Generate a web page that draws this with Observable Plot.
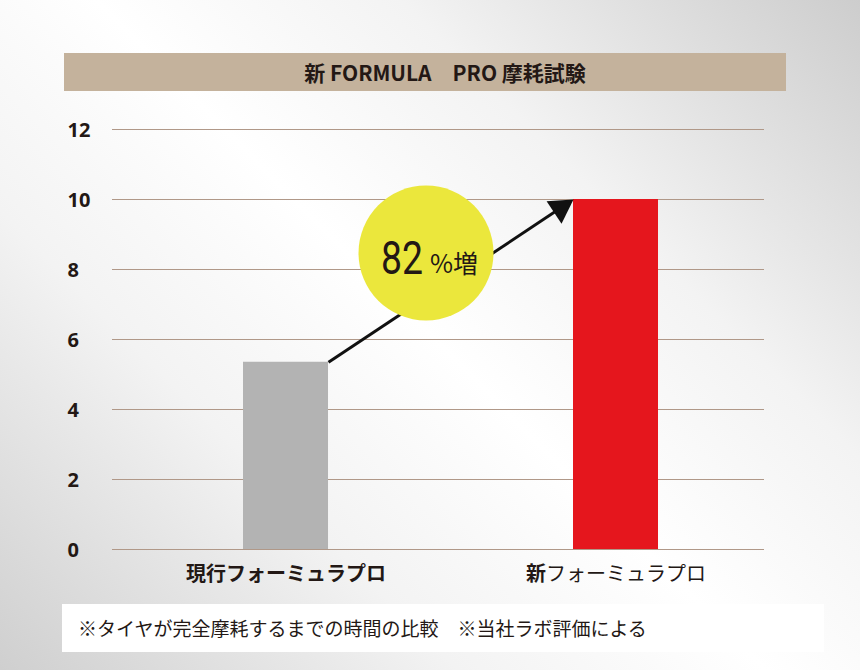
<!DOCTYPE html>
<html><head><meta charset="utf-8">
<script src="https://cdn.jsdelivr.net/npm/d3@7"></script>
<script src="https://cdn.jsdelivr.net/npm/@observablehq/plot@0.6"></script>
<style>
html,body{margin:0;padding:0;}
#wrap{position:relative;width:860px;height:670px;overflow:hidden;
  background:linear-gradient(225deg,#cdcdcd 0%,#f3f3f3 30%,#ffffff 50%,#f3f3f3 70%,#cfcfcf 100%);
  font-family:"Noto Sans CJK JP",sans-serif;color:#231815;}
#title{position:absolute;left:64px;top:53px;width:722px;height:38px;background:#c4b29c;text-align:center;line-height:38px;font-weight:700;font-size:21px;padding-left:40px;box-sizing:border-box;}
#chart{position:absolute;left:0;top:100px;}
#caption{position:absolute;left:62px;top:604px;width:762px;height:48px;background:#fff;line-height:48px;font-size:19px;padding-left:16px;box-sizing:border-box;}
</style></head>
<body><div id="wrap"><div id="title"></div><div id="chart"></div><div id="caption"></div></div>
<script>
const categories = ["現行フォーミュラプロ", "新フォーミュラプロ"];
const values = [5.35, 10];
const barColors = ["#b3b3b3", "#e5161d"];
const yTicks = [0, 2, 4, 6, 8, 10, 12];
const increaseNumber = "82";
const increaseUnit = "%増";
const titleText = "新 FORMULA　PRO 摩耗試験";
const captionText = "※タイヤが完全摩耗するまでの時間の比較　※当社ラボ評価による";

document.getElementById("title").textContent = titleText;
document.getElementById("caption").textContent = captionText;

const W = 860, H = 500, ml = 112, mr = 96, mt = 29, mb = 51;
const xDomain = [-0.5258, 1.45];
const kx = (W - ml - mr) / (xDomain[1] - xDomain[0]);
const ky = (H - mt - mb) / 12;
const hw = 42.5 / kx;

const data = categories.map((c, i) => ({c, i, v: values[i], color: barColors[i]}));

// arrow from top-right of first bar to top-left of second bar
const a0 = {x: data[0].i + hw, y: data[0].v};
const a1 = {x: data[1].i - hw, y: data[1].v};
const pdx = (a1.x - a0.x) * kx, pdy = -(a1.y - a0.y) * ky;
const plen = Math.hypot(pdx, pdy);
const ux = pdx / plen, uy = pdy / plen;
const triR = 10;
const triY = Math.sqrt(Math.PI * triR * triR / (Math.sqrt(3) * 3));
const back = 2 * triY;
const triCenter = {x: a1.x - back * ux / kx, y: a1.y + back * uy / ky};
const angle = Math.atan2(pdy, pdx) * 180 / Math.PI + 90;

// badge position
const badge = {x: (425.5 - 285.5) / kx, y: (449 - 152.5) / ky};

const plot = Plot.plot({
  width: W, height: H,
  marginLeft: ml, marginRight: mr, marginTop: mt, marginBottom: mb,
  x: {domain: xDomain, axis: null},
  y: {domain: [0, 12], axis: null},
  color: {type: "identity"},
  style: {background: "transparent", overflow: "visible"},
  marks: [
    Plot.ruleY(yTicks, {stroke: "#b09888", strokeWidth: 1}),
    Plot.rectY(data, {x1: d => d.i - hw, x2: d => d.i + hw, y1: 0, y2: "v", fill: "color"}),
    Plot.link([0], {x1: () => a0.x, y1: () => a0.y, x2: () => triCenter.x, y2: () => triCenter.y, stroke: "#111", strokeWidth: 3}),
    Plot.dot([0], {x: () => triCenter.x, y: () => triCenter.y, r: triR, symbol: "triangle", fill: "#111", stroke: "none", rotate: angle}),
    Plot.dot([0], {x: () => badge.x, y: () => badge.y, r: 67.5, fill: "#ebe73c", stroke: "none"}),
    Plot.text([increaseNumber], {x: () => badge.x, y: () => badge.y, text: d => d, textAnchor: "end", dx: -3, dy: 6, fontSize: 46, fontFamily: "Roboto, sans-serif", fill: "#231815", className: "bignum"}),
    Plot.text([increaseUnit], {x: () => badge.x, y: () => badge.y, text: d => d, textAnchor: "start", dx: 4, dy: 12, fontSize: 25, fontFamily: "'Noto Sans CJK JP', sans-serif", fill: "#231815"}),
    Plot.text(yTicks, {y: d => d, text: d => String(d), frameAnchor: "left", dx: -45, dy: 1, textAnchor: "start", fontSize: 20, fontWeight: 700, fontFamily: "'Open Sans', sans-serif", fill: "#231815"}),
    Plot.text(data, {x: "i", text: "c", frameAnchor: "bottom", dy: 31, fontSize: 20, fontFamily: "'Noto Sans CJK JP', sans-serif", fill: "#231815", className: "xlab"})
  ]
});
document.getElementById("chart").appendChild(plot);

// condensed look for the big number
d3.select(plot).selectAll("g.bignum text").attr("textLength", 42).attr("lengthAdjust", "spacingAndGlyphs");

// bold parts of category labels
d3.select(plot).selectAll("g.xlab text").each(function() {
  const t = this.textContent;
  const boldLen = t.startsWith("新") ? 1 : t.length;
  const sel = d3.select(this);
  sel.text(null);
  sel.append("tspan").attr("font-weight", 700).text(t.slice(0, boldLen));
  if (boldLen < t.length) sel.append("tspan").attr("font-weight", 400).text(t.slice(boldLen));
});
</script>
</body></html>
